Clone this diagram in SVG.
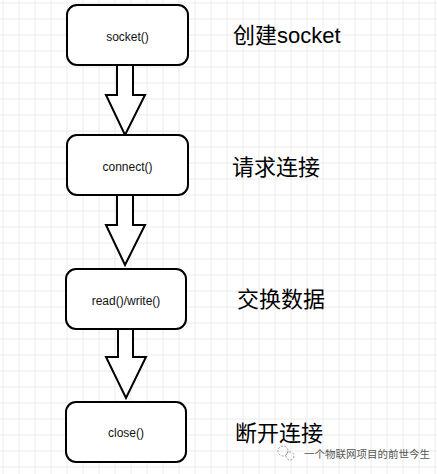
<svg xmlns="http://www.w3.org/2000/svg" width="437" height="474" viewBox="0 0 437 474">
<defs>
<pattern id="grid" x="2.5" y="2.5" width="16" height="16" patternUnits="userSpaceOnUse">
<path d="M0 0.5H16M0.5 0V16" fill="none" stroke="#ebebeb" stroke-width="1"/>
</pattern>
<style>
.box{fill:#fff;stroke:#000;stroke-width:2}
.arr{fill:#fff;stroke:#000;stroke-width:2;stroke-linejoin:miter}
.nl{font-family:"Liberation Sans",Arial,sans-serif;font-size:12px;fill:#111;text-anchor:middle}
.side{font-family:"Liberation Sans","Noto Sans CJK SC",sans-serif;font-size:22px;fill:#000}
.wm{font-family:"Noto Sans CJK SC",sans-serif;font-size:10.5px;fill:#555}
</style>
</defs>
<rect width="437" height="474" fill="#fff"/>
<rect width="437" height="474" fill="url(#grid)"/>
<g id="connectors">
<path class="arr" d="M117 65V95H106L125 135L145 95H133V65Z"/>
<path class="arr" d="M117 195V225H106L125 265L145 225H133V195Z"/>
<path class="arr" d="M118 329V357H106L126 398L146 357H133V329Z"/>
</g>
<g id="n1"><rect class="box" x="67" y="5" width="121" height="60" rx="10"/><text class="nl" x="127.5" y="41">socket()</text></g>
<g id="n2"><rect class="box" x="67" y="135" width="121" height="60" rx="10"/><text class="nl" x="127.5" y="171">connect()</text></g>
<g id="n3"><rect class="box" x="66" y="269" width="120" height="60" rx="10"/><text class="nl" x="126" y="305">read()/write()</text></g>
<g id="n4"><rect class="box" x="66" y="402" width="120" height="60" rx="10"/><text class="nl" x="126" y="437">close()</text></g>
<g id="labels">
<text class="side" x="233" y="43">创建socket</text>
<text class="side" x="232" y="175">请求连接</text>
<text class="side" x="237" y="307">交换数据</text>
<text class="side" x="235" y="441">断开连接</text>
</g>
<g id="watermark">
<circle cx="283" cy="451" r="5" fill="none" stroke="#999" stroke-width="1" stroke-dasharray="2 1.5"/>
<circle cx="290" cy="456" r="4" fill="none" stroke="#999" stroke-width="1" stroke-dasharray="2 1.5"/>
<text class="wm" x="304" y="458">一个物联网项目的前世今生</text>
</g>
</svg>
